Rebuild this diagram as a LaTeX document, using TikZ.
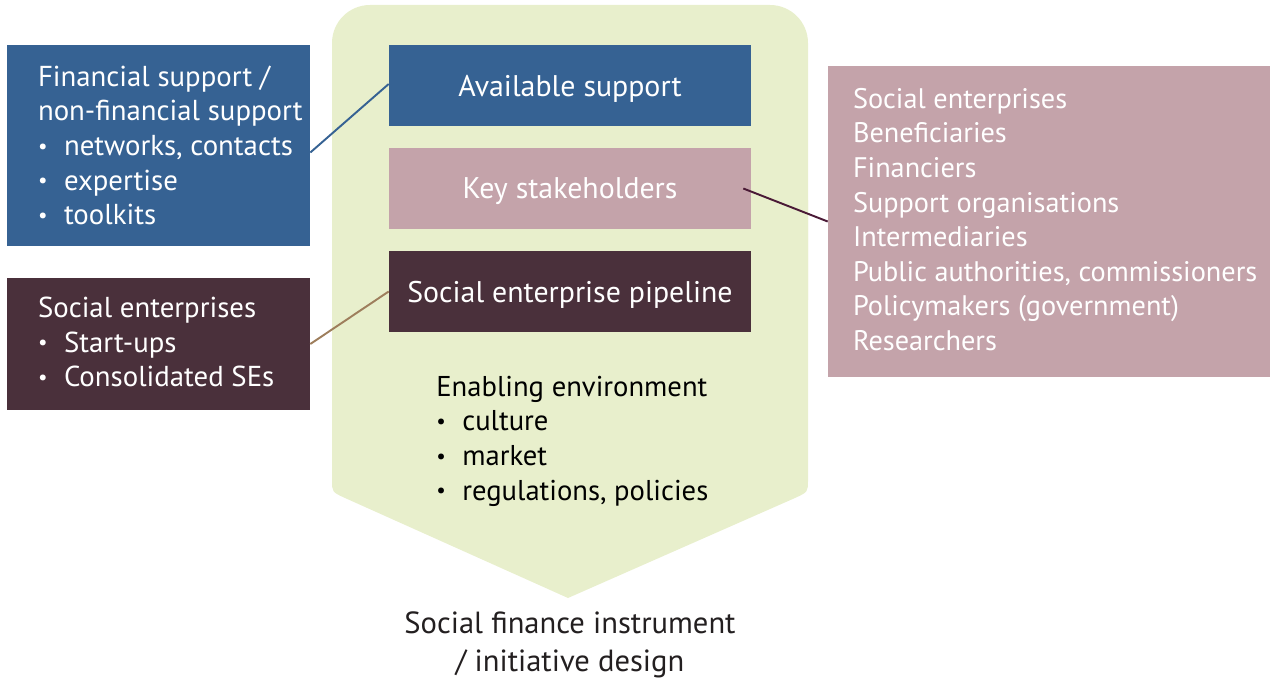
\documentclass[tikz,border=0pt]{standalone}
\usepackage{fontspec}
\setmainfont{PT Sans}
\definecolor{supblue}{HTML}{366293}
\definecolor{stakepink}{HTML}{C4A3AA}
\definecolor{pipemaroon}{HTML}{4A303B}
\definecolor{envgreen}{HTML}{E8EFCC}
\definecolor{linemaroon}{HTML}{4A1A36}
\definecolor{linebrown}{HTML}{9E7E5C}
\definecolor{textdark}{HTML}{231F20}
\newcommand{\bitem}[1]{\makebox[0.52cm][l]{\raisebox{0.08em}{\fontsize{12}{12}\selectfont\textbullet}}#1}
\newcommand{\boxfont}{\fontsize{17}{19.7}\selectfont}
\newcommand{\sidefont}{\fontsize{16.4}{19.7}\selectfont}
\begin{document}
\begin{tikzpicture}[x=0.02cm, y=-0.02cm,
    centrebox/.style={rectangle, minimum width=7.24cm, minimum height=1.62cm, inner sep=0pt, text depth=0pt, text=white, font=\boxfont},
    sidebox/.style={rectangle, inner sep=0pt},
    sidetext/.style={anchor=west, inner sep=0pt, text=white, align=left, font=\sidefont},
    link/.style={line width=1.1pt}]
    \useasboundingbox (0,0) rectangle (1271,679);

    % Background arrow
    \fill[envgreen, rounded corners=0.76cm] (332,300) -- (332,5) -- (808,5) -- (808,300);
    \fill[envgreen] (332,200) -- (808,200) -- (808,480) .. controls (808,492) .. (795,498)
        -- (568,598) -- (345,498) .. controls (332,492) .. (332,480) -- cycle;

    % Centre column
    \node[centrebox, fill=supblue] (avail) at (570,85.5) {Available support};
    \node[centrebox, fill=stakepink] (keyst) at (570,188.5) {Key stakeholders};
    \node[centrebox, fill=pipemaroon] (pipe) at (570,291.5) {Social enterprise pipeline};

    % Enabling environment
    \node[anchor=west, inner sep=0pt, align=left, text=black, font=\fontsize{16.3}{19.7}\selectfont] (enab) at (436,441)
        {Enabling environment\\ \bitem{culture}\\ \bitem{market}\\ \bitem{regulations, policies}};

    % Side boxes
    \node[sidebox, fill=supblue, minimum width=6.06cm, minimum height=4.02cm] (finbox) at (158.5,145.5) {};
    \node[sidetext] (fintext) at ([xshift=0.62cm]finbox.west)
        {Financial support /\\ non-financial support\\ \bitem{networks, contacts}\\ \bitem{expertise}\\ \bitem{toolkits}};
    \node[sidebox, fill=pipemaroon, minimum width=6.06cm, minimum height=2.64cm] (sebox) at (158.5,344) {};
    \node[sidetext] (setext) at ([xshift=0.62cm, yshift=0.04cm]sebox.west)
        {Social enterprises\\ \bitem{Start-ups}\\ \bitem{Consolidated SEs}};
    \node[sidebox, fill=stakepink, minimum width=8.84cm, minimum height=6.22cm] (stake) at (1049,221.5) {};
    \node[sidetext, font=\fontsize{16.1}{19.7}\selectfont] (staketext) at ([xshift=0.5cm, yshift=0.04cm]stake.west)
        {Social enterprises\\ Beneficiaries\\ Financiers\\ Support organisations\\ Intermediaries\\
         Public authorities, commissioners\\ Policymakers (government)\\ Researchers};

    % Links
    \draw[link, supblue] ([yshift=-0.14cm]finbox.east) -- ([yshift=0.03cm]avail.west);
    \draw[link, linebrown] (sebox.east) -- (pipe.west);
    \draw[link, linemaroon] ([xshift=-0.16cm]keyst.east) -- (stake.west);

    % Outcome
    \node[align=center, text=textdark, font=\fontsize{17.4}{21.6}\selectfont] (design) at (570,645)
        {Social finance instrument\\ / initiative design};
\end{tikzpicture}
\end{document}
